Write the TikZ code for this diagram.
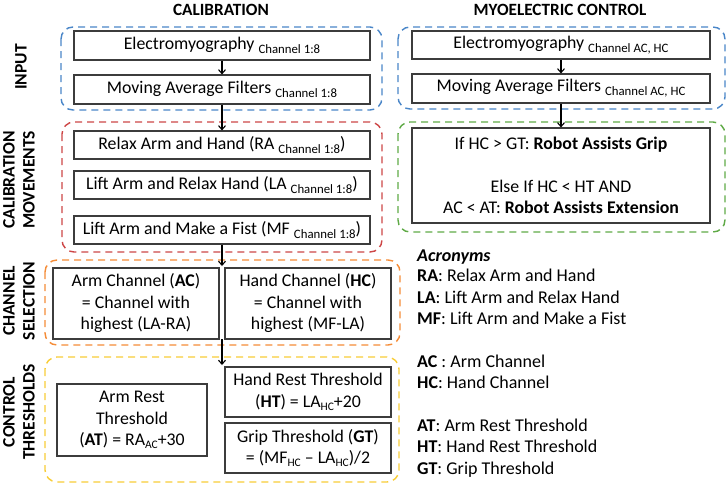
\documentclass[tikz,border=0pt]{standalone}
\usepackage{fontspec}
\setmainfont{Carlito}
\usetikzlibrary{arrows.meta}
\definecolor{cblue}{RGB}{74,134,200}
\definecolor{cred}{RGB}{205,70,70}
\definecolor{corange}{RGB}{245,140,55}
\definecolor{cyellow}{RGB}{248,205,55}
\definecolor{cgreen}{RGB}{95,170,70}
\definecolor{boxline}{RGB}{60,60,60}
\newcommand\chsub[1]{\raisebox{-4pt}{\fontsize{12.8}{13}\selectfont #1}}
\newcommand\lowsub[1]{\raisebox{-3pt}{\fontsize{11.5}{12}\selectfont #1}}
\tikzset{
  mainfont/.style={font=\fontsize{17.8}{21.5}\selectfont},
  stepbox/.style={draw=boxline, line width=1.1pt, rectangle, inner sep=0pt, align=center, mainfont},
  group/.style={dashed, dash pattern=on 7pt off 5pt, line width=1.4pt, rounded corners=12pt},
  arr/.style={-{Straight Barb[length=4pt,width=7pt]}, line width=1.1pt, black},
  sidelabel/.style={rotate=90, align=center, font=\fontsize{17.5}{20}\selectfont\bfseries},
  title/.style={anchor=base, font=\fontsize{17.2}{20}\selectfont\bfseries},
  acro/.style={anchor=base west, inner sep=0pt, font=\fontsize{18}{20}\selectfont}
}
\begin{document}
\begin{tikzpicture}[x=1pt,y=-1pt]
\useasboundingbox (0,0) rectangle (728,488);

% titles
\node[title] (t1) at (221,15) {CALIBRATION};
\node[title] (t2) at (560,15) {MYOELECTRIC CONTROL};

% side labels
\node[sidelabel] (l1) at (21,67) {INPUT};
\node[sidelabel] (l2) at (19,180) {CALIBRATION\\MOVEMENTS};
\node[sidelabel] (l3) at (19,301) {CHANNEL\\SELECTION};
\node[sidelabel] (l4) at (19,412) {CONTROL\\THRESHOLDS};

% dashed groups
\draw[group, cblue] (61,27) rectangle (382,110);
\draw[group, cred] (62,122) rectangle (382,252);
\draw[group, corange] (45,260) rectangle (400,345);
\draw[group, cyellow] (45,357) rectangle (399,482);
\draw[group, cblue] (398,27) rectangle (725,109);
\draw[group, cgreen] (398,122) rectangle (725,232);

% left column boxes
\node[stepbox, minimum width=296pt, minimum height=29pt] (emg1) at (222,45.5) {Electromyography \chsub{Channel 1:8}};
\node[stepbox, minimum width=296pt, minimum height=29pt] (maf1) at (222,89.5) {Moving Average Filters \chsub{Channel 1:8}};
\node[stepbox, minimum width=296pt, minimum height=28pt] (ra) at (222,145) {Relax Arm and Hand (RA \chsub{Channel 1:8})};
\node[stepbox, minimum width=296pt, minimum height=28pt] (la) at (222,185) {Lift Arm and Relax Hand (LA \chsub{Channel 1:8})};
\node[stepbox, minimum width=296pt, minimum height=28pt] (mf) at (222,230) {Lift Arm and Make a Fist (MF \chsub{Channel 1:8})};
\node[stepbox, minimum width=166pt, minimum height=71pt] (ac) at (136,303.5) {Arm Channel (\textbf{AC})\\= Channel with\\highest (LA-RA)};
\node[stepbox, minimum width=166pt, minimum height=71pt] (hc) at (308,303.5) {Hand Channel (\textbf{HC})\\= Channel with\\highest (MF-LA)};
\node[stepbox, minimum width=150pt, minimum height=72pt] (at) at (132,420) {Arm Rest\\Threshold\\(\textbf{AT}) = RA\lowsub{AC}+30};
\node[stepbox, minimum width=166pt, minimum height=50pt] (ht) at (308,392) {Hand Rest Threshold\\(\textbf{HT}) = LA\lowsub{HC}+20};
\node[stepbox, minimum width=166pt, minimum height=50pt] (gt) at (308,448) {Grip Threshold (\textbf{GT})\\= (MF\lowsub{HC} -- LA\lowsub{HC})/2};

% right column boxes
\node[stepbox, minimum width=298pt, minimum height=28pt] (emg2) at (561,45) {Electromyography \chsub{Channel AC, HC}};
\node[stepbox, minimum width=298pt, minimum height=29pt] (maf2) at (561,88.5) {Moving Average Filters \chsub{Channel AC, HC}};
\node[stepbox, minimum width=298pt, minimum height=95pt] (dec) at (561,175.5) {If HC > GT: \textbf{Robot Assists Grip}\\[21.5pt]Else If HC < HT AND\\AC < AT: \textbf{Robot Assists Extension}};

% arrows
\coordinate (c1) at (222,266);
\coordinate (c2) at (222,339);
\coordinate (c3) at (222,365);
\draw[arr] (emg1) -- (maf1);
\draw[arr] (maf1) -- (ra);
\draw[arr] (mf.south) -- (c1);
\draw[arr] (c2) -- (c3);
\draw[arr] (emg2) -- (maf2);
\draw[arr] (maf2) -- (dec);

% acronyms
\node[acro] (a0) at (417,261) {\textbf{\textit{Acronyms}}};
\node[acro] (a1) at (417,281) {\textbf{RA}: Relax Arm and Hand};
\node[acro] (a2) at (417,303) {\textbf{LA}: Lift Arm and Relax Hand};
\node[acro] (a3) at (417,324) {\textbf{MF}: Lift Arm and Make a Fist};
\node[acro] (a4) at (417,367) {\textbf{AC} : Arm Channel};
\node[acro] (a5) at (417,388) {\textbf{HC}: Hand Channel};
\node[acro] (a6) at (417,431) {\textbf{AT}: Arm Rest Threshold};
\node[acro] (a7) at (417,452) {\textbf{HT}: Hand Rest Threshold};
\node[acro] (a8) at (417,474) {\textbf{GT}: Grip Threshold};
\end{tikzpicture}
\end{document}
